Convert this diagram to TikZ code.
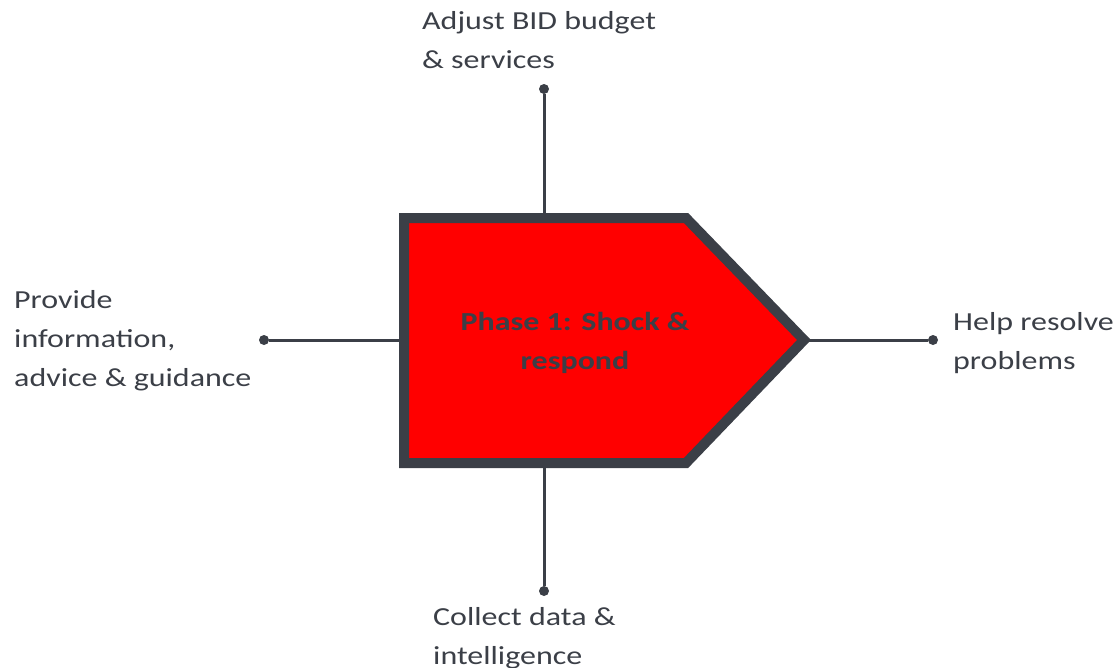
\documentclass[tikz,border=0pt]{standalone}
\usepackage{fontspec}
\setmainfont{Carlito}[FakeStretch=1.23]
\definecolor{ink}{RGB}{59,63,71}
\definecolor{phasered}{RGB}{255,0,0}
\begin{document}
\begin{tikzpicture}[x=1pt,y=-1pt]
            \tikzstyle{every node}+=[inner sep=0pt]
            \tikzstyle{lbl}=[anchor=north west, align=left, text=ink, font=\fontsize{26}{39}\selectfont]
            \tikzstyle{dot}=[circle, fill=ink, minimum size=10pt]
            \tikzstyle{link}=[ink, line width=3pt]
            \useasboundingbox (0,0) rectangle (1117,667);
                \coordinate (ptl) at (404,218);
                \coordinate (ptr) at (686,218);
                \coordinate (ptip) at (804,340);
                \coordinate (pbr) at (686,463);
                \coordinate (pbl) at (404,463);
                \coordinate (ptop) at (544,218);
                \coordinate (pbot) at (544,463);
                \coordinate (pleft) at (404,340);
                \node [dot] (dtop) at (544,89) {};
                \node [dot] (dbot) at (544,591) {};
                \node [dot] (dleft) at (264,340) {};
                \node [dot] (dright) at (933,340) {};
                \draw [link] (ptop) -- (dtop);
                \draw [link] (pbot) -- (dbot);
                \draw [link] (pleft) -- (dleft);
                \draw [link] (ptip) -- (dright);
                \draw [ink, fill=phasered, line width=10pt] (ptl) -- (ptr) -- (ptip) -- (pbr) -- (pbl) -- cycle;
                \node [anchor=north, align=center, text=ink, font=\fontsize{26}{39}\selectfont\bfseries] (phase) at (575,302.7) {\strut Phase 1: Shock \&\\respond};
                \node [lbl] (budget) at (422,1.7) {\strut Adjust BID budget\\\& services};
                \node [lbl] (advice) at (14,280.7) {\strut Provide\\information,\\advice \& guidance};
                \node [lbl] (resolve) at (953,302.7) {\strut Help resolve\\problems};
                \node [lbl] (data) at (433,597.7) {\strut Collect data \&\\intelligence};
            \end{tikzpicture}
\end{document}
